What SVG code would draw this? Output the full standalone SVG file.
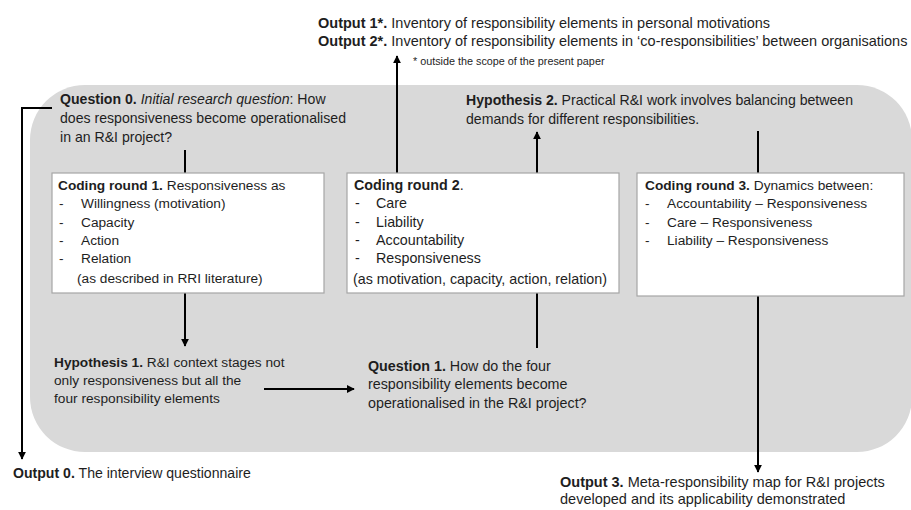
<svg xmlns="http://www.w3.org/2000/svg" width="911" height="510" viewBox="0 0 911 510">
<defs>
<style>
text{font-family:"Liberation Sans",Arial,sans-serif;font-size:14.1px;fill:#1e1e1e}
.b{font-weight:bold}
.i{font-style:italic}
.o12 text{font-size:14.5px}
.o12 text.fn{font-size:10.8px}
.o3 text{font-size:14.5px}
.sm text{font-size:13.7px}
.md text{font-size:14.3px}
.box{fill:#fff;stroke:#a6a6a6;stroke-width:1.2}
.ln{stroke:#000;stroke-width:2;fill:none}
.arr{marker-end:url(#ah)}
</style>
<marker id="ah" viewBox="0 0 10 10" refX="9" refY="5" markerWidth="4" markerHeight="4" orient="auto" markerUnits="strokeWidth">
<path d="M0,0 L10,5 L0,10 z" fill="#000"/>
</marker>
</defs>
<rect id="bg" x="30" y="85" width="882" height="367" rx="55" ry="55" fill="#d9d9d9"/>
<g id="connectors">
<path class="ln arr" d="M52,108 H22 V459"/>
<path class="ln" d="M185,150 V173"/>
<path class="ln arr" d="M185,293 V346"/>
<path class="ln arr" d="M264,389 H354"/>
<path class="ln" d="M537,348 V293"/>
<path class="ln arr" d="M537,173 V132"/>
<path class="ln arr" d="M397,173 V56"/>
<path class="ln" d="M758,131 V173"/>
<path class="ln arr" d="M758,296 V472"/>
</g>
<g id="outputs12" class="o12">
<text x="318" y="28"><tspan class="b">Output 1*.</tspan> Inventory of responsibility elements in personal motivations</text>
<text x="318" y="46"><tspan class="b">Output 2*.</tspan> Inventory of responsibility elements in ‘co-responsibilities’ between organisations</text>
<text class="fn" x="413" y="65">* outside the scope of the present paper</text>
</g>
<g id="question0">
<text x="60" y="104"><tspan class="b">Question 0.</tspan> <tspan class="i">Initial research question</tspan>:  How</text>
<text x="60" y="123">does responsiveness become operationalised</text>
<text x="60" y="142">in an R&amp;I project?</text>
</g>
<g id="hypothesis2">
<text x="466" y="105"><tspan class="b">Hypothesis 2.</tspan> Practical R&amp;I work involves balancing between</text>
<text x="466" y="124">demands for different responsibilities.</text>
</g>
<g id="coding1" class="sm">
<rect class="box" x="52" y="173" width="272" height="120"/>
<text x="58" y="190"><tspan class="b">Coding round 1.</tspan> Responsiveness  as</text>
<text x="59" y="208">-</text><text x="81" y="208">Willingness (motivation)</text>
<text x="59" y="227">-</text><text x="81" y="227">Capacity</text>
<text x="59" y="245">-</text><text x="81" y="245">Action</text>
<text x="59" y="263">-</text><text x="81" y="263">Relation</text>
<text x="77" y="283">(as described in RRI literature)</text>
</g>
<g id="coding2" class="md">
<rect class="box" x="347" y="173" width="272" height="120"/>
<text x="354" y="190"><tspan class="b">Coding round 2</tspan>.</text>
<text x="355" y="208">-</text><text x="376" y="208">Care</text>
<text x="355" y="227">-</text><text x="376" y="227">Liability</text>
<text x="355" y="245">-</text><text x="376" y="245">Accountability</text>
<text x="355" y="263">-</text><text x="376" y="263">Responsiveness</text>
<text x="353" y="284">(as motivation, capacity, action, relation)</text>
</g>
<g id="coding3" class="sm">
<rect class="box" x="637" y="173" width="267" height="123"/>
<text x="645" y="190"><tspan class="b">Coding round 3.</tspan> Dynamics between:</text>
<text x="645" y="208">-</text><text x="667" y="208">Accountability – Responsiveness</text>
<text x="645" y="227">-</text><text x="667" y="227">Care – Responsiveness</text>
<text x="645" y="245">-</text><text x="667" y="245">Liability – Responsiveness</text>
</g>
<g id="hypothesis1" class="sm">
<text x="54" y="367"><tspan class="b">Hypothesis 1.</tspan> R&amp;I context stages not</text>
<text x="54" y="385">only responsiveness  but all the</text>
<text x="54" y="403">four responsibility elements</text>
</g>
<g id="question1" class="md">
<text x="368" y="371"><tspan class="b">Question 1.</tspan> How do the four</text>
<text x="368" y="389">responsibility elements become</text>
<text x="368" y="408">operationalised in the R&amp;I project?</text>
</g>
<g id="output0">
<text x="13" y="478"><tspan class="b">Output 0.</tspan> The interview questionnaire</text>
</g>
<g id="output3" class="o3">
<text x="560" y="487"><tspan class="b">Output 3.</tspan> Meta-responsibility map for R&amp;I projects</text>
<text x="560" y="504">developed and its applicability demonstrated</text>
</g>
</svg>
